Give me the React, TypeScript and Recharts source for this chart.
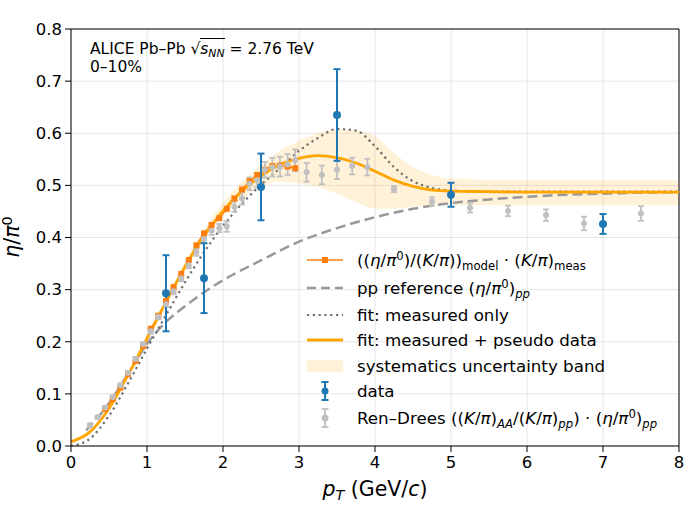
import { ComposedChart, Line, Area, Scatter, XAxis, YAxis, CartesianGrid, ErrorBar, ReferenceLine } from 'recharts'
import type { ReactNode } from 'react'

const FONT = '"DejaVu Sans", Verdana, sans-serif'

// eta/pi0 measured in 0-10% Pb-Pb
const DATA_PT = [1.25, 1.75, 2.5, 3.5, 5.0, 7.0]
const DATA_Y = [0.293, 0.322, 0.497, 0.635, 0.482, 0.426]
const DATA_ERR = [0.073, 0.067, 0.064, 0.088, 0.023, 0.019]

// Ren-Drees pseudo data: ((K/pi)_AA/(K/pi)_pp) * (eta/pi0)_pp
const RD_PT = [
  0.25, 0.35, 0.45, 0.55, 0.65, 0.75, 0.85, 0.95, 1.05, 1.15, 1.25, 1.35, 1.45, 1.55, 1.65,
  1.75, 1.85, 1.95, 2.05, 2.15, 2.25, 2.35, 2.45, 2.55, 2.65, 2.75, 2.85, 2.95,
  3.1, 3.3, 3.5, 3.7, 3.9, 4.25, 4.75, 5.25, 5.75, 6.25, 6.75, 7.5,
]
const RD_Y = [
  0.040, 0.055, 0.074, 0.094, 0.116, 0.140, 0.167, 0.195, 0.220, 0.248, 0.272, 0.297, 0.322, 0.347, 0.372,
  0.397, 0.413, 0.418, 0.421, 0.459, 0.475, 0.503, 0.510, 0.530, 0.535, 0.536, 0.540, 0.548,
  0.525, 0.520, 0.530, 0.537, 0.535, 0.493, 0.469, 0.457, 0.451, 0.443, 0.427, 0.446,
]
const RD_ERR = [
  0.003, 0.003, 0.003, 0.003, 0.004, 0.004, 0.004, 0.004, 0.005, 0.005, 0.005, 0.006, 0.006, 0.006, 0.007,
  0.007, 0.008, 0.008, 0.010, 0.010, 0.012, 0.012, 0.014, 0.015, 0.018, 0.019, 0.020, 0.021,
  0.018, 0.018, 0.018, 0.016, 0.016, 0.006, 0.008, 0.009, 0.010, 0.011, 0.013, 0.014,
]

// (eta/pi0)/(K/pi) from model times measured K/pi
const MODEL_PT = [
  0.45, 0.55, 0.65, 0.75, 0.85, 0.95, 1.05, 1.15, 1.25, 1.35, 1.45, 1.55, 1.65,
  1.75, 1.85, 1.95, 2.05, 2.15, 2.25, 2.35, 2.45, 2.55, 2.65, 2.75, 2.85, 2.95,
]
const MODEL_Y = [
  0.071, 0.090, 0.112, 0.138, 0.163, 0.192, 0.225, 0.250, 0.278, 0.305, 0.330, 0.357, 0.385,
  0.408, 0.424, 0.437, 0.455, 0.475, 0.492, 0.508, 0.520, 0.530, 0.537, 0.538, 0.536, 0.533,
]

// fitted curves and systematic band
const CURVE_PT = [
  0, 0.25, 0.5, 0.75, 1.0, 1.25, 1.5, 1.75, 2.0, 2.25, 2.5, 2.75, 3.0, 3.25, 3.5, 3.75,
  4.0, 4.25, 4.5, 4.75, 5.0, 5.5, 6.0, 6.5, 7.0, 7.5, 8.0,
]
const FIT_ALL = [
  0.008, 0.027, 0.072, 0.136, 0.206, 0.276, 0.344, 0.403, 0.451, 0.489, 0.518, 0.540, 0.552, 0.557, 0.553, 0.543,
  0.527, 0.510, 0.498, 0.491, 0.489, 0.488, 0.487, 0.487, 0.487, 0.487, 0.487,
]
const FIT_MEAS = [
  0.0, 0.014, 0.058, 0.120, 0.187, 0.251, 0.314, 0.372, 0.422, 0.465, 0.501, 0.533, 0.566, 0.591, 0.608, 0.605,
  0.575, 0.535, 0.508, 0.495, 0.490, 0.488, 0.488, 0.488, 0.488, 0.488, 0.488,
]
const BAND_LO = [
  0.006, 0.024, 0.068, 0.131, 0.200, 0.269, 0.336, 0.395, 0.441, 0.474, 0.498, 0.507, 0.504, 0.497, 0.484, 0.468,
  0.455, 0.455, 0.459, 0.461, 0.462, 0.462, 0.462, 0.462, 0.462, 0.462, 0.462,
]
const BAND_HI = [
  0.010, 0.030, 0.076, 0.141, 0.212, 0.283, 0.352, 0.415, 0.466, 0.507, 0.539, 0.566, 0.585, 0.600, 0.607, 0.605,
  0.595, 0.562, 0.535, 0.520, 0.513, 0.511, 0.510, 0.510, 0.510, 0.510, 0.510,
]

// pp reference (eta/pi0)_pp
const PP_PT = [0.2, 0.5, 0.75, 1.0, 1.25, 1.5, 1.75, 2.0, 2.5, 3.0, 3.5, 4.0, 4.5, 5.0, 5.5, 6.0, 6.5, 7.0, 7.5, 8.0]
const PP_REF = [0.030, 0.082, 0.138, 0.196, 0.238, 0.268, 0.295, 0.318, 0.356, 0.392, 0.418, 0.439, 0.455, 0.466, 0.473, 0.478, 0.482, 0.484, 0.486, 0.487]

const X_TICKS = [0, 1, 2, 3, 4, 5, 6, 7, 8]
const Y_TICKS = [0, 0.1, 0.2, 0.3, 0.4, 0.5, 0.6, 0.7, 0.8]

const dataPts = DATA_PT.map((x, i) => ({ x, y: DATA_Y[i], err: DATA_ERR[i] }))
const rdPts = RD_PT.map((x, i) => ({ x, y: RD_Y[i], err: RD_ERR[i] }))
const modelPts = MODEL_PT.map((x, i) => ({ x, y: MODEL_Y[i] }))
const fitAll = CURVE_PT.map((x, i) => ({ x, y: FIT_ALL[i] }))
const fitMeas = CURVE_PT.map((x, i) => ({ x, y: FIT_MEAS[i] }))
const band = CURVE_PT.map((x, i) => ({ x, band: [BAND_LO[i], BAND_HI[i]] }))
const ppRef = PP_PT.map((x, i) => ({ x, y: PP_REF[i] }))

const BLUE = '#1f77b4'
const ORANGE = '#ff7f0e'
const FIT_ORANGE = '#ffa500'
const SILVER = '#c0c0c0'
const DASH_GRAY = '#999999'
const DOT_GRAY = '#6e6e6e'

const sup = { fontSize: '0.7em', verticalAlign: '0.5em', lineHeight: 0 }
const sub = { fontSize: '0.7em', verticalAlign: '-0.3em', lineHeight: 0 }

function LegendRow({ y, icon, children }: { y: number; icon: ReactNode; children: ReactNode }) {
  return (
    <div style={{ position: 'absolute', left: 300, top: y - 13, height: 26, display: 'flex', alignItems: 'center' }}>
      <svg width={50} height={26} style={{ display: 'block' }}>{icon}</svg>
      <span style={{ marginLeft: 7, fontSize: 16.7, lineHeight: '26px', whiteSpace: 'nowrap' }}>{children}</span>
    </div>
  )
}

const errIcon = (color: string, w: number) => (
  <g stroke={color} strokeWidth={w}>
    <line x1={25} x2={25} y1={4} y2={22} />
    <line x1={21.5} x2={28.5} y1={4} y2={4} />
    <line x1={21.5} x2={28.5} y1={22} y2={22} />
    <circle cx={25} cy={13} r={3.5} fill={color} stroke="none" />
  </g>
)

export default function App() {
  return (
    <div style={{ position: 'relative', width: 700, height: 515, fontFamily: FONT, color: '#000', background: '#fff' }}>
      <style>{'body{margin:0}'}</style>
      <ComposedChart width={700} height={515} margin={{ top: 29, right: 21, bottom: 0, left: 0 }}>
        <CartesianGrid stroke="#e6e6e6" strokeWidth={1} />
        <XAxis
          dataKey="x"
          type="number"
          domain={[0, 8]}
          ticks={X_TICKS}
          interval={0}
          height={69}
          allowDataOverflow
          stroke="#000"
          tickSize={6}
          tickMargin={4}
          tick={{ fontSize: 16.5, fill: '#000', fontFamily: FONT }}
        />
        <YAxis
          type="number"
          domain={[0, 0.8]}
          ticks={Y_TICKS}
          interval={0}
          width={71}
          allowDataOverflow
          stroke="#000"
          tickSize={6}
          tickMargin={3}
          tickFormatter={(v: number) => v.toFixed(1)}
          tick={{ fontSize: 16.5, fill: '#000', fontFamily: FONT }}
        />
        <ReferenceLine y={0.8} stroke="#000" strokeWidth={1} />
        <ReferenceLine x={8} stroke="#000" strokeWidth={1} />
        <Area data={band} dataKey="band" type="monotone" stroke="none" fill={FIT_ORANGE} fillOpacity={0.15} isAnimationActive={false} />
        <Line data={ppRef} dataKey="y" type="monotone" stroke={DASH_GRAY} strokeWidth={2.5} strokeDasharray="10 5" dot={false} isAnimationActive={false} />
        <Line data={fitMeas} dataKey="y" type="monotone" stroke={DOT_GRAY} strokeWidth={2.2} strokeDasharray="2.2 3.6" dot={false} isAnimationActive={false} />
        <Line
          data={modelPts}
          dataKey="y"
          type="linear"
          stroke={ORANGE}
          strokeWidth={1.5}
          dot={(p: any) => <rect key={p.index} x={p.cx - 3} y={p.cy - 3} width={6} height={6} fill={ORANGE} />}
          isAnimationActive={false}
        />
        <Line data={fitAll} dataKey="y" type="monotone" stroke={FIT_ORANGE} strokeWidth={2.8} dot={false} isAnimationActive={false} />
        <Scatter
          data={rdPts}
          dataKey="y"
          fill={SILVER}
          shape={(p: any) => <circle cx={p.cx} cy={p.cy} r={3} fill={SILVER} />}
          isAnimationActive={false}
        >
          <ErrorBar dataKey="err" direction="y" width={3} stroke={SILVER} strokeWidth={1.8} />
        </Scatter>
        <Scatter
          data={dataPts}
          dataKey="y"
          fill={BLUE}
          shape={(p: any) => <circle cx={p.cx} cy={p.cy} r={4} fill={BLUE} />}
          isAnimationActive={false}
        >
          <ErrorBar dataKey="err" direction="y" width={3.5} stroke={BLUE} strokeWidth={2} />
        </Scatter>
      </ComposedChart>

      {/* collision system annotation */}
      <div style={{ position: 'absolute', left: 90, top: 40, fontSize: 15.5, lineHeight: '18px', whiteSpace: 'nowrap' }}>
        <div>
          ALICE Pb–Pb √<span style={{ borderTop: '1px solid #000', paddingTop: 1 }}><i>s</i><span style={sub}><i>NN</i></span></span> = 2.76 TeV
        </div>
        <div>0–10%</div>
      </div>

      {/* axis titles */}
      <div style={{ position: 'absolute', left: 275, top: 477, width: 200, textAlign: 'center', fontSize: 20.5, lineHeight: '24px' }}>
        <i>p</i><span style={sub}><i>T</i></span> (GeV/<i>c</i>)
      </div>
      <div
        style={{
          position: 'absolute', left: 12 - 50, top: 237 - 12, width: 100, height: 24, textAlign: 'center',
          fontSize: 20.5, lineHeight: '24px', transform: 'rotate(-90deg)',
        }}
      >
        <i>η</i>/<i>π</i><span style={sup}>0</span>
      </div>

      {/* legend */}
      <LegendRow y={260} icon={<g><line x1={7} x2={43} y1={13} y2={13} stroke={ORANGE} strokeWidth={1.5} /><rect x={22} y={10} width={6} height={6} fill={ORANGE} /></g>}>
        ((<i>η</i>/<i>π</i><span style={sup}>0</span>)/(<i>K</i>/<i>π</i>))<span style={sub}>model</span> · (<i>K</i>/<i>π</i>)<span style={sub}>meas</span>
      </LegendRow>
      <LegendRow y={288} icon={<line x1={7} x2={43} y1={13} y2={13} stroke={DASH_GRAY} strokeWidth={2.5} strokeDasharray="9 5" />}>
        pp reference (<i>η</i>/<i>π</i><span style={sup}>0</span>)<span style={sub}><i>pp</i></span>
      </LegendRow>
      <LegendRow y={315} icon={<line x1={7} x2={43} y1={13} y2={13} stroke={DOT_GRAY} strokeWidth={2.2} strokeDasharray="2.2 3.6" />}>
        fit: measured only
      </LegendRow>
      <LegendRow y={340} icon={<line x1={7} x2={43} y1={13} y2={13} stroke={FIT_ORANGE} strokeWidth={2.8} />}>
        fit: measured + pseudo data
      </LegendRow>
      <LegendRow y={366} icon={<rect x={7} y={7} width={36} height={12} fill={FIT_ORANGE} fillOpacity={0.15} />}>
        systematics uncertainty band
      </LegendRow>
      <LegendRow y={391} icon={errIcon(BLUE, 2)}>
        data
      </LegendRow>
      <LegendRow y={418} icon={errIcon(SILVER, 1.8)}>
        Ren–Drees ((<i>K</i>/<i>π</i>)<span style={sub}><i>AA</i></span>/(<i>K</i>/<i>π</i>)<span style={sub}><i>pp</i></span>) · (<i>η</i>/<i>π</i><span style={sup}>0</span>)<span style={sub}><i>pp</i></span>
      </LegendRow>
    </div>
  )
}
